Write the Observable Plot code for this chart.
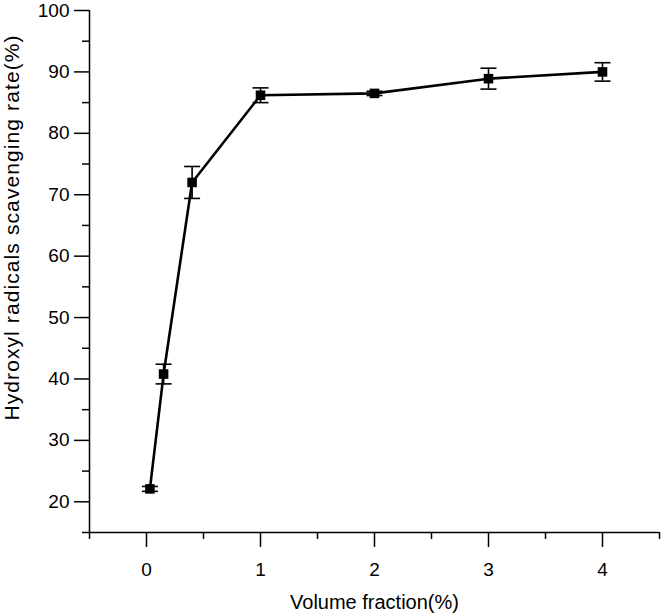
<!DOCTYPE html>
<html>
<head>
<meta charset="utf-8">
<script src="https://cdn.jsdelivr.net/npm/d3@7"></script>
<script src="https://cdn.jsdelivr.net/npm/@observablehq/plot@0.6"></script>
<style>
  html, body { margin: 0; padding: 0; background: #fff; }
</style>
</head>
<body>
<div id="chart"></div>
<script>
// Data
const volumeFraction = [0.03, 0.15, 0.4, 1, 2, 3, 4];
const scavengingRate = [22.1, 40.8, 72.0, 86.2, 86.5, 88.9, 90.0];
const errorValues   = [0.4, 1.6, 2.6, 1.2, 0.35, 1.7, 1.5];
const xTicks = [0, 1, 2, 3, 4];
const xMinorTicks = [-0.5, 0.5, 1.5, 2.5, 3.5, 4.5];
const yTicks = [20, 30, 40, 50, 60, 70, 80, 90, 100];
const yMinorTicks = [15, 25, 35, 45, 55, 65, 75, 85, 95];
const xLabel = "Volume fraction(%)";
const yLabel = "Hydroxyl radicals scavenging rate(%)";

const data = volumeFraction.map((x, i) => ({
  x, y: scavengingRate[i], lo: scavengingRate[i] - errorValues[i], hi: scavengingRate[i] + errorValues[i]
}));

const capSymbol = {
  draw(context, size) {
    const r = Math.sqrt(size / Math.PI);
    context.moveTo(-r, 0);
    context.lineTo(r, 0);
  }
};

const font = "'Liberation Sans', Arial, sans-serif";

const chart = Plot.plot({
  width: 663,
  height: 616,
  marginLeft: 89,
  marginRight: 4,
  marginTop: 10,
  marginBottom: 84,
  style: { fontFamily: font, fontSize: "19px", color: "#000", background: "#fff" },
  x: { domain: [-0.5, 4.5] },
  y: { domain: [15, 100] },
  marks: [
    Plot.axisX(xMinorTicks, { tickSize: 7, tickFormat: () => "", strokeWidth: 1.5, label: null }),
    Plot.axisX(xTicks, { tickSize: 15, tickPadding: 15, tickFormat: d3.format("d"), strokeWidth: 1.5, fontSize: 19, label: null }),
    Plot.axisY(yMinorTicks, { tickSize: 7, tickFormat: () => "", strokeWidth: 1.5, label: null }),
    Plot.axisY(yTicks, { tickSize: 15, tickPadding: 5, tickFormat: d3.format("d"), strokeWidth: 1.5, fontSize: 19, label: null }),
    Plot.ruleY([15], { stroke: "#000", strokeWidth: 1.5 }),
    Plot.ruleX([-0.5], { stroke: "#000", strokeWidth: 1.5 }),
    Plot.line(data, { x: "x", y: "y", stroke: "#000", strokeWidth: 2.6 }),
    Plot.ruleX(data, { x: "x", y1: "lo", y2: "hi", stroke: "#000", strokeWidth: 1.6 }),
    Plot.dot(data, { x: "x", y: "hi", symbol: capSymbol, r: 8, stroke: "#000", strokeWidth: 1.6, fill: "none" }),
    Plot.dot(data, { x: "x", y: "lo", symbol: capSymbol, r: 8, stroke: "#000", strokeWidth: 1.6, fill: "none" }),
    Plot.dot(data, { x: "x", y: "y", symbol: "square", r: 5.4, fill: "#000", stroke: "none" }),
    Plot.text([xLabel], { frameAnchor: "bottom", dy: 76, fontSize: 20, fill: "#000", textAnchor: "middle" }),
    Plot.text([yLabel], { frameAnchor: "left", dx: -77, dy: -44, rotate: -90, fontSize: 21, fill: "#000", textAnchor: "middle" })
  ]
});

// slightly widen the vertical title's letter spacing, as in the reference
d3.select(chart).selectAll("text").filter(function () { return this.textContent === yLabel; })
  .style("letter-spacing", "1.1px");

document.getElementById("chart").appendChild(chart);
</script>
</body>
</html>
